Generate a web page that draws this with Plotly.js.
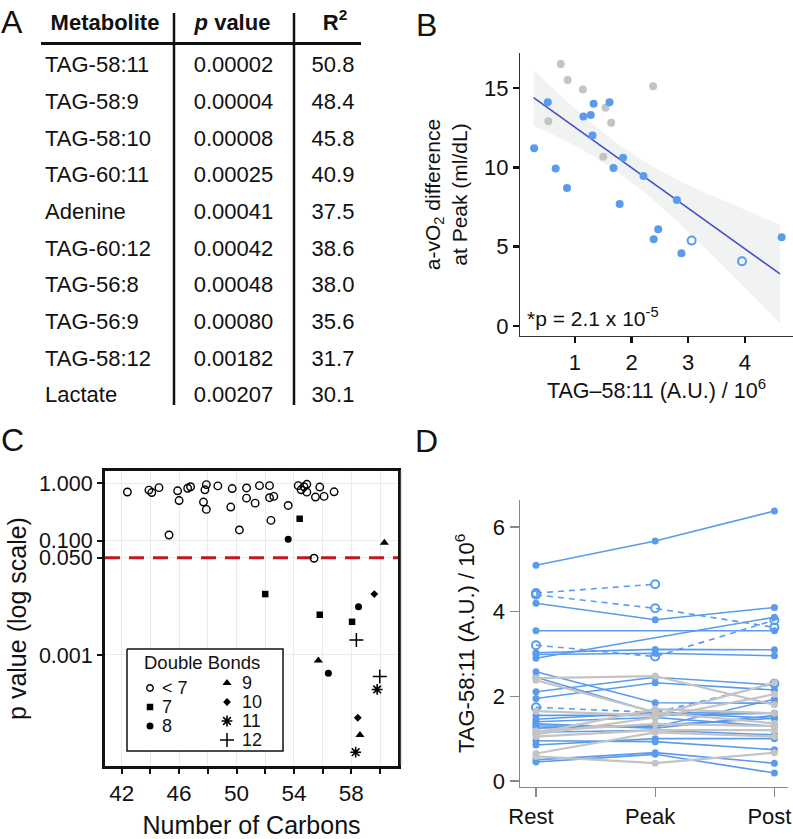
<!DOCTYPE html>
<html><head><meta charset="utf-8">
<script src="https://cdn.plot.ly/plotly-3.0.1.min.js"></script>
<style>html,body{margin:0;padding:0;background:#fff}#chart{width:793px;height:839px}</style>
</head><body><div id="chart"></div>
<script>
// ---------- Panel A: table ----------
const metabolites = ['TAG-58:11','TAG-58:9','TAG-58:10','TAG-60:11','Adenine','TAG-60:12','TAG-56:8','TAG-56:9','TAG-58:12','Lactate'];
const pValueText = ['0.00002','0.00004','0.00008','0.00025','0.00041','0.00042','0.00048','0.00080','0.00182','0.00207'];
const r2Text = ['50.8','48.4','45.8','40.9','37.5','38.6','38.0','35.6','31.7','30.1'];
const tableHeaders = ['<b>Metabolite</b>','<b><i>p</i> value</b>','<b>R<sup>2</sup></b>'];

// ---------- Panel B: scatter ----------
const blueX = [0.52,1.33,1.61,1.15,1.28,1.31,0.28,0.66,0.86,1.85,1.68,2.21,2.80,1.79,2.47,2.39,2.88,4.65];
const blueY = [14.1,14.0,14.1,13.2,13.3,12.0,11.2,9.93,8.7,10.6,9.95,9.45,7.94,7.69,6.09,5.46,4.58,5.59];
const grayX = [0.75,0.87,1.14,2.38,0.53,1.54,1.64,1.50];
const grayY = [16.5,15.5,14.9,15.1,12.9,13.75,12.8,10.67];
const openX = [3.06,3.95];
const openY = [5.38,4.08];
const fitX = [0.27,0.8,1.3,1.8,2.3,2.8,3.3,3.8,4.2,4.62];
const fitY = [14.39,13.04,11.76,10.48,9.20,7.92,6.65,5.37,4.35,3.28];
const bandUpper = [16.14,14.34,12.76,11.38,10.2,9.22,8.4,7.62,7.0,6.38];
const bandLower = [12.64,11.74,10.76,9.58,8.2,6.62,4.9,3.12,1.7,0.18];
const bXTicks = [1,2,3,4];
const bYTicks = [0,5,10,15];

// ---------- Panel C: p value vs carbons ----------
const dbLt7X = [42.4,43.9,44.1,44.6,45.3,45.9,46.0,46.6,46.8,47.7,47.8,47.9,47.9,48.7,49.7,49.6,50.2,50.7,50.7,51.3,51.6,52.3,52.3,52.6,52.4,53.6,54.3,54.5,54.7,54.9,54.9,55.8,55.5,56.1,56.8,55.4];
const dbLt7P = [0.705,0.76,0.69,0.84,0.125,0.74,0.50,0.82,0.87,0.47,0.77,0.95,0.35,0.90,0.81,0.385,0.153,0.83,0.55,0.45,0.91,0.91,0.56,0.59,0.225,0.41,0.91,0.77,0.87,0.96,0.70,0.86,0.575,0.59,0.71,0.049];
const db7X = [54.4,52.0,55.8,58.05];
const db7P = [0.24,0.0116,0.00505,0.0038];
const db8X = [53.6,58.5,56.4];
const db8P = [0.105,0.00697,0.00048];
const db9X = [60.3,55.7,58.6];
const db9P = [0.0916,0.0008,0.00004];
const db10X = [59.6,58.45];
const db10P = [0.0116,0.00008];
const db11X = [59.8,58.3];
const db11P = [0.00025,0.00002];
const db12X = [59.98,58.35];
const db12P = [0.00042,0.00182];
const threshold = 0.05;
const cXRange = [40.84, 61.25];
const cXTickVals = [42,44,46,48,50,52,54,56,58,60];
const cXTickText = ['42',' ','46',' ','50',' ','54',' ','58',' '];
const cYTickVals = [0.001,0.05,0.1,1];
const cYTickText = ['0.001','0.050','0.100','1.000'];
const legendLabels = ['< 7','7','8','9','10','11','12'];

// ---------- Panel D: Rest / Peak / Post ----------
const timepoints = ['Rest','Peak','Post'];
const blueSubjects = [
  [5.10,5.67,6.38],[4.20,3.81,4.10],[3.55,null,3.55],[2.90,null,3.87],
  [3.03,3.11,3.10],[2.99,3.02,2.96],[2.58,1.85,1.84],[2.11,2.45,2.27],
  [1.95,2.32,2.15],[2.45,1.62,1.60],[1.46,1.62,1.48],[1.30,1.28,1.93],
  [1.40,1.50,1.29],[1.25,1.32,1.48],[1.15,1.20,1.09],[0.85,1.00,1.00],
  [0.95,0.93,0.74],[0.50,0.67,0.42],[0.45,0.63,0.19],[1.55,1.55,1.60],
  [1.35,1.25,1.55]
];
const dashedSubjects = [[4.44,4.65,null],[4.40,4.08,3.63],[3.21,2.94,3.80],[1.74,1.62,2.30]];
const graySubjects = [
  [2.43,2.48,1.80],[2.38,1.62,1.36],[1.65,1.55,2.32],[1.13,1.70,1.60],
  [1.05,1.20,1.20],[0.65,1.15,1.05],[0.58,0.42,0.67],[1.10,1.50,2.05],[1.18,1.35,1.30]
];
const dYTicks = [0,2,4,6];

// ---------- styling ----------
const FONT = 'Liberation Sans, Arial, Helvetica, sans-serif';
const BLUE = '#5a9bec';
const GRAY = '#c4c4c4';
const W = 793, H = 839;
const traces = [];

// Panel A table text (overlay pixel axes x4/y4)
const rowY = i => 66.7 + 36.67 * i;
traces.push({x: metabolites.map(()=>45), y: metabolites.map((_, i)=>rowY(i)), text: metabolites, mode:'text',
  textposition:'middle right', textfont:{size:22,color:'#111',family:FONT}, xaxis:'x4', yaxis:'y4', hoverinfo:'skip'});
traces.push({x: pValueText.map(()=>233.5), y: pValueText.map((_, i)=>rowY(i)), text: pValueText, mode:'text',
  textposition:'middle center', textfont:{size:22,color:'#111',family:FONT}, xaxis:'x4', yaxis:'y4', hoverinfo:'skip'});
traces.push({x: r2Text.map(()=>333), y: r2Text.map((_, i)=>rowY(i)), text: r2Text, mode:'text',
  textposition:'middle center', textfont:{size:22,color:'#111',family:FONT}, xaxis:'x4', yaxis:'y4', hoverinfo:'skip'});
traces.push({x: [105,232.5,335], y: [24,24,24], text: tableHeaders, mode:'text',
  textposition:'middle center', textfont:{size:22,color:'#111',family:FONT}, xaxis:'x4', yaxis:'y4', hoverinfo:'skip'});

// Panel B
traces.push({x: fitX, y: bandLower, mode:'lines', line:{width:0,color:'rgba(0,0,0,0)'}, xaxis:'x2', yaxis:'y2', hoverinfo:'skip'});
traces.push({x: fitX, y: bandUpper, mode:'lines', line:{width:0,color:'rgba(0,0,0,0)'}, fill:'tonexty',
  fillcolor:'rgba(215,220,220,0.35)', xaxis:'x2', yaxis:'y2', hoverinfo:'skip'});
traces.push({x: fitX, y: fitY, mode:'lines', line:{width:1.6,color:'#4350c6'}, xaxis:'x2', yaxis:'y2'});
traces.push({x: grayX, y: grayY, mode:'markers', marker:{size:8,color:GRAY}, xaxis:'x2', yaxis:'y2'});
traces.push({x: blueX, y: blueY, mode:'markers', marker:{size:8,color:BLUE}, xaxis:'x2', yaxis:'y2'});
traces.push({x: openX, y: openY, mode:'markers', marker:{size:8,color:BLUE,symbol:'circle-open',line:{width:2,color:BLUE}}, xaxis:'x2', yaxis:'y2'});

// Panel C threshold line
traces.push({x: cXRange, y: [threshold, threshold], mode:'lines', xaxis:'x', yaxis:'y',
  line:{color:'#c3161c', width:3, dash:'15px,9px'}});
// Panel C points
const cSeries = [
  [dbLt7X, dbLt7P, 'circle-open', 7.5, 1.4],
  [db7X, db7P, 'square', 6.5, 0],
  [db8X, db8P, 'circle', 7, 0],
  [db9X, db9P, 'triangle-up', 8, 0],
  [db10X, db10P, 'diamond', 6, 0],
  [db11X, db11P, 'asterisk-open', 9, 1.6],
  [db12X, db12P, 'cross-thin-open', 10, 1.5]
];
cSeries.forEach(s => traces.push({x:s[0], y:s[1], mode:'markers', xaxis:'x', yaxis:'y',
  marker:{symbol:s[2], size:s[3], color:'#000', line:{width:s[4], color:'#000'}}}));

// Panel C legend box + symbols (pixel overlay)
const legBox = {x0:127, x1:283, y0:649, y1:751};
traces.push({x:[legBox.x0, legBox.x1, legBox.x1, legBox.x0, legBox.x0], y:[legBox.y0, legBox.y0, legBox.y1, legBox.y1, legBox.y0],
  mode:'lines', fill:'toself', fillcolor:'#fff', line:{color:'#111', width:1.5}, xaxis:'x4', yaxis:'y4'});
const legX = [150,150,150,227,227,227,227];
const legY = [688,707,726,683,702,721,740];
cSeries.forEach((s, i) => traces.push({x:[legX[i]], y:[legY[i]], mode:'markers', xaxis:'x4', yaxis:'y4',
  marker:{symbol:s[2], size: i===0 ? 6.5 : s[3], color:'#000', line:{width:s[4], color:'#000'}}}));

// Panel D
const dx = [0,1,2];
blueSubjects.forEach(v => traces.push({x:dx, y:v, mode:'lines+markers', connectgaps:true, xaxis:'x3', yaxis:'y3',
  line:{color:BLUE,width:1.6}, marker:{color:BLUE,size:7}}));
dashedSubjects.forEach(v => traces.push({x:dx, y:v, mode:'lines+markers', connectgaps:false, xaxis:'x3', yaxis:'y3',
  line:{color:BLUE,width:1.6,dash:'6px,5px'}, marker:{color:BLUE,size:8,symbol:'circle-open',line:{width:2,color:BLUE}}}));
graySubjects.forEach(v => traces.push({x:dx, y:v, mode:'lines+markers', xaxis:'x3', yaxis:'y3',
  line:{color:GRAY,width:2.2}, marker:{color:GRAY,size:7}}));

const ann = (x, y, text, size, opts) => Object.assign({x, y, xref:'x4', yref:'y4', text, showarrow:false,
  font:{size, color:'#111', family:FONT}, xanchor:'center', yanchor:'middle'}, opts || {});

const annotations = [
  ann(12, 22, 'A', 32), ann(426, 25, 'B', 32), ann(12, 440, 'C', 32), ann(426, 441, 'D', 32),
  Object.assign(ann(0.12, 0.55, '*p = 2.1 x 10<sup>-5</sup>', 21, {xanchor:'left'}), {xref:'x2', yref:'y2'}),
  ann(142, 662, 'Double Bonds', 18.5, {xanchor:'left'})
];
const legTX = [160,160,160,240,240,240,240];
legendLabels.forEach((t, i) => annotations.push(ann(legTX[i], legY[i], t, 18, {xanchor:'left'})));

const shapes = [
  {type:'line', xref:'x4', yref:'y4', x0:41, x1:361, y0:43.5, y1:43.5, line:{color:'#111', width:3}},
  {type:'line', xref:'x4', yref:'y4', x0:174, x1:174, y0:13, y1:405, line:{color:'#111', width:2.5}},
  {type:'line', xref:'x4', yref:'y4', x0:294, x1:294, y0:13, y1:405, line:{color:'#111', width:2.5}},
  {type:'line', xref:'x4', yref:'y4', x0:401.5, x1:401.5, y0:470, y1:765, line:{color:'#e2e2e2', width:1.5}}
];

const tf = s => ({size:s, color:'#111', family:FONT});
const layout = {
  width:W, height:H, margin:{l:0,r:0,t:0,b:0}, showlegend:false, hovermode:false,
  paper_bgcolor:'#fff', plot_bgcolor:'rgba(0,0,0,0)', font:{family:FONT, color:'#111'},
  xaxis:{domain:[105/W, 398/W], anchor:'y', range:cXRange, tickmode:'array', tickvals:cXTickVals, ticktext:cXTickText,
    ticks:'outside', ticklen:5, tickwidth:2, tickcolor:'#111', showline:true, mirror:true, linewidth:3, linecolor:'#111',
    showgrid:true, gridcolor:'#ebebeb', gridwidth:1, zeroline:false, tickfont:tf(22.5),
    title:{text:'Number of Carbons', font:tf(25), standoff:12}},
  yaxis:{domain:[(H-766)/H, (H-471)/H], anchor:'x', type:'log', range:[-4.94, 0.215], tickmode:'array', tickvals:cYTickVals, ticktext:cYTickText,
    ticks:'outside', ticklen:5, tickwidth:2, tickcolor:'#111', showline:true, mirror:true, linewidth:3, linecolor:'#111',
    showgrid:true, gridcolor:'#ebebeb', gridwidth:1, zeroline:false, tickfont:tf(21.5),
    title:{text:'p value (log scale)', font:tf(25), standoff:6}},
  xaxis2:{domain:[520/W, 1], anchor:'y2', range:[0.03, 4.85], tickmode:'array', tickvals:bXTicks,
    ticks:'outside', ticklen:6, tickwidth:2.5, tickcolor:'#111', showline:true, linewidth:1.2, linecolor:'#333',
    showgrid:false, zeroline:false, tickfont:tf(22),
    title:{text:'TAG–58:11 (A.U.) / 10<sup>6</sup>', font:tf(21.5), standoff:8}},
  yaxis2:{domain:[(H-336)/H, (H-53)/H], anchor:'x2', range:[-0.63, 17.2], tickmode:'array', tickvals:bYTicks,
    ticks:'outside', ticklen:6, tickwidth:2.5, tickcolor:'#111', showline:true, linewidth:1.2, linecolor:'#333',
    showgrid:false, zeroline:false, tickfont:tf(22),
    title:{text:'a-vO<sub>2</sub> difference<br>at Peak (ml/dL)', font:tf(21), standoff:10}},
  xaxis3:{domain:[520/W, 788/W], anchor:'y3', range:[-0.134, 2.114], tickmode:'array', tickvals:dx, ticktext:timepoints,
    ticks:'outside', ticklen:9, tickwidth:1.2, tickcolor:'#888', showline:true, linewidth:1.5, linecolor:'#888',
    showgrid:false, zeroline:false, tickfont:tf(22), ticklabeloverflow:'allow', ticklabelshift:-5},
  yaxis3:{domain:[(H-786.7)/H, (H-500)/H], anchor:'x3', range:[-0.135, 6.64], tickmode:'array', tickvals:dYTicks,
    ticks:'outside', ticklen:9, tickwidth:1.2, tickcolor:'#888', showline:true, linewidth:1.5, linecolor:'#888',
    showgrid:false, zeroline:false, tickfont:tf(22),
    title:{text:'TAG-58:11 (A.U.) / 10<sup>6</sup>', font:tf(22), standoff:12}},
  xaxis4:{domain:[0,1], anchor:'y4', range:[0, W], visible:false, fixedrange:true},
  yaxis4:{domain:[0,1], anchor:'x4', range:[H, 0], visible:false, fixedrange:true},
  annotations, shapes
};
Plotly.newPlot('chart', traces, layout, {staticPlot:true, displayModeBar:false});
</script></body></html>
